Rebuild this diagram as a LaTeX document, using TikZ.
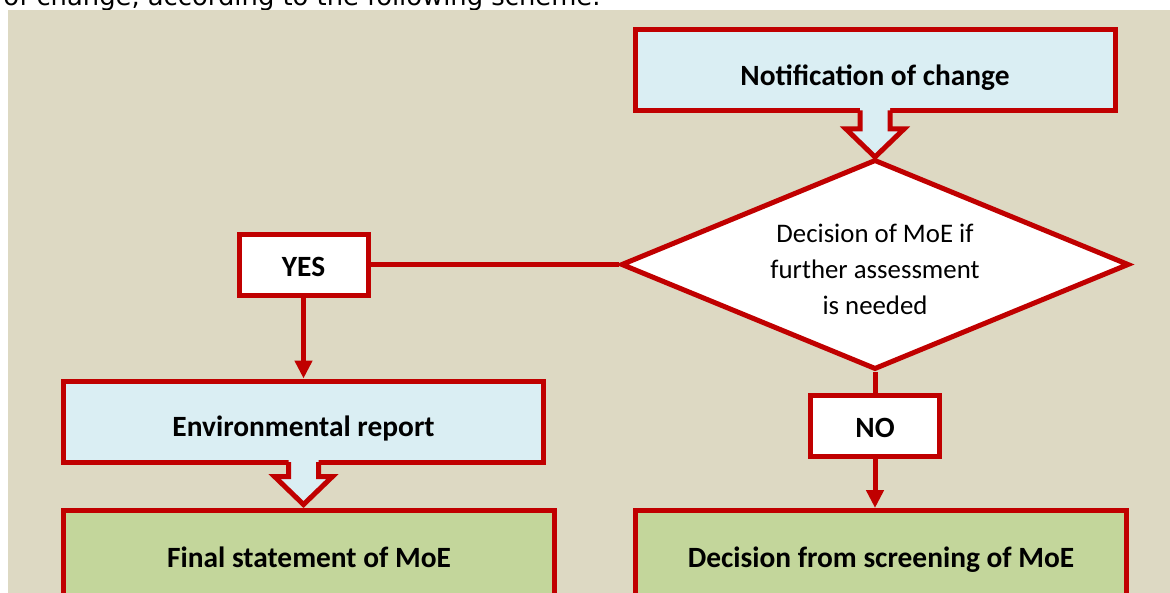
\documentclass[tikz,border=0pt]{standalone}
\usepackage{fontspec}
\setmainfont{Carlito}
\newfontfamily\introfont{DejaVu Sans}
\usetikzlibrary{arrows.meta, positioning, shapes.geometric, calc}
\definecolor{moered}{HTML}{C00000}
\definecolor{notifblue}{HTML}{DAEEF3}
\definecolor{moegreen}{HTML}{C3D69B}
\definecolor{pagetan}{HTML}{DDD9C3}

\begin{document}
\begin{tikzpicture}[
  x=0.5pt, y=-0.5pt,
  line width=2.5pt,
  callout/.style={draw=moered, fill=notifblue, minimum width=240pt, minimum height=40.5pt, font=\fontsize{14.7}{17}\selectfont\bfseries, text height=15.1pt, text depth=0pt},
  decision/.style={diamond, aspect=2.36, draw=moered, fill=white, minimum width=254pt, minimum height=105pt, inner sep=0pt, align=center, font=\fontsize{13.4}{18}\selectfont},
  answer/.style={draw=moered, fill=white, minimum width=64.5pt, minimum height=30.5pt, font=\fontsize{14.7}{17}\selectfont\bfseries, text height=11.6pt, text depth=0pt},
  result/.style={draw=moered, fill=moegreen, minimum width=245.5pt, minimum height=48pt, font=\fontsize{14.7}{17}\selectfont\bfseries, text height=8.6pt, text depth=0pt},
  link/.style={draw=moered},
  arr/.style={draw=moered, -{Triangle[length=9pt, width=8.5pt]}}
]
\useasboundingbox (0,0) rectangle (1170,593);
\node[anchor=base west, inner sep=0pt, font=\introfont\fontsize{12.9}{15}\selectfont] (intro) at (1,6) {of change, according to the following scheme.};
\fill[pagetan] (8,10) rectangle (1170,593);

\node[callout] (notif) at (875,70) {Notification of change};
\node[decision, below=22pt of notif] (dec) {\rule{0pt}{14pt}Decision of MoE if\\further assessment\\is needed};
\node[answer, left=124pt of dec] (yes) {YES};
\node[answer, below=10.5pt of dec] (no) {NO};
\node[callout, below=40.5pt of yes] (envrep) {Environmental report};
\node[result, below=21.75pt of envrep.south west, anchor=north west] (final) {Final statement of MoE};
\node[result, right=38pt of final] (screen) {Decision from screening of MoE};

% callout arrows
\coordinate (t1) at (notif.south |- dec.north);
\fill[notifblue] ($(notif.south)+(-7.5pt,2.5pt)$) -- ($(t1)+(-7.5pt,14pt)$) -- ++(-7pt,0pt) -- (t1) -- ++(14.5pt,14pt) -- ++(-7pt,0pt) -- ($(notif.south)+(7.5pt,2.5pt)$) -- cycle;
\draw[link] ($(notif.south)+(-7.5pt,1.25pt)$) -- ($(t1)+(-7.5pt,14pt)$) -- ++(-7pt,0pt) -- (t1) -- ++(14.5pt,14pt) -- ++(-7pt,0pt) -- ($(notif.south)+(7.5pt,1.25pt)$);
\coordinate (t2) at ($(envrep.south |- final.north)+(0pt,1.75pt)$);
\fill[notifblue] ($(envrep.south)+(-7.5pt,2.5pt)$) -- ($(t2)+(-7.5pt,14pt)$) -- ++(-7pt,0pt) -- (t2) -- ++(14.5pt,14pt) -- ++(-7pt,0pt) -- ($(envrep.south)+(7.5pt,2.5pt)$) -- cycle;
\draw[link] ($(envrep.south)+(-7.5pt,1.25pt)$) -- ($(t2)+(-7.5pt,14pt)$) -- ++(-7pt,0pt) -- (t2) -- ++(14.5pt,14pt) -- ++(-7pt,0pt) -- ($(envrep.south)+(7.5pt,1.25pt)$);

\draw[link] (dec.west) -- (yes.east);
\draw[link] (dec.south) -- (no.north);
\draw[arr] (yes.south) -- (yes.south |- envrep.north);
\draw[arr] (no.south) -- (no.south |- screen.north);
\end{tikzpicture}
\end{document}
